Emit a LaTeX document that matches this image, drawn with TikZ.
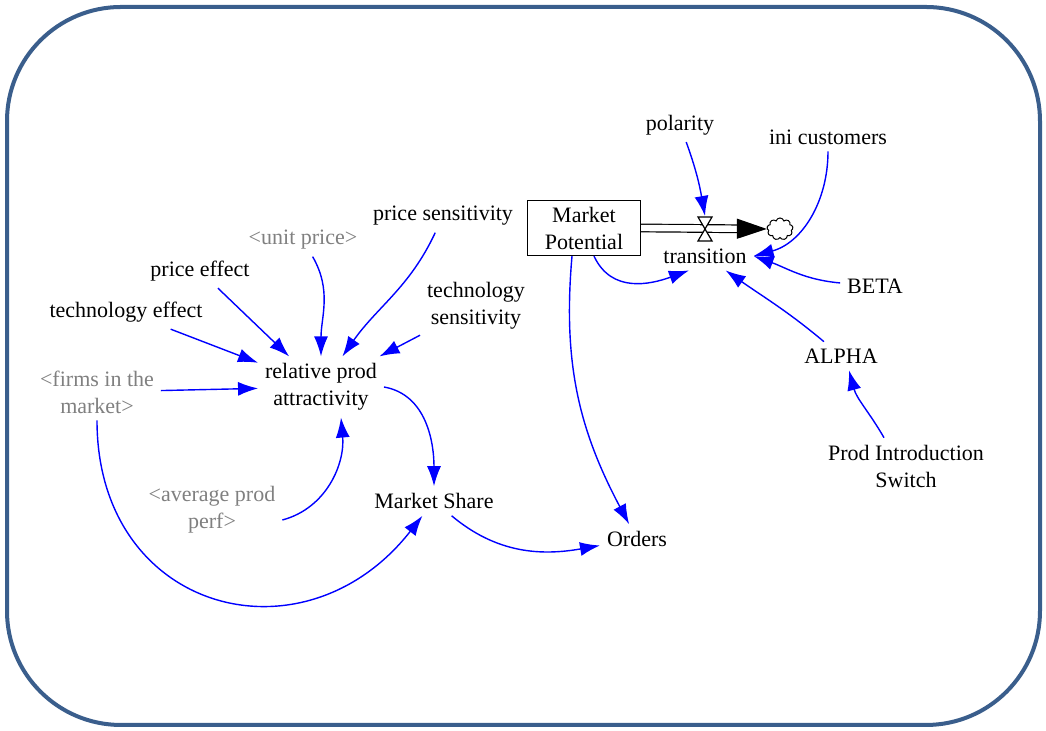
\documentclass[tikz,border=0pt]{standalone}
\usepackage{fontspec}
\setmainfont{Liberation Serif}
\usetikzlibrary{arrows.meta,shapes.symbols}
\definecolor{framecol}{RGB}{58,94,140}
\definecolor{linkcol}{RGB}{0,0,255}
\definecolor{shadowcol}{RGB}{128,128,128}
\tikzset{
  link/.style={draw=linkcol, line width=0.7pt, -{Latex[length=10pt,width=7pt]}},
  shadowvar/.style={text=shadowcol},
  stockbox/.style={draw, line width=0.6pt, minimum width=56.5pt, minimum height=27.5pt, inner sep=1pt},
}
\begin{document}
\begin{tikzpicture}[x=0.5pt,y=0.5pt,font=\fontsize{11}{13.5}\selectfont,
    every node/.style={align=center}]
      \useasboundingbox (0,0) rectangle (1046,731);
      \draw[framecol, line width=2pt, rounded corners=57pt] (7,6) rectangle (1040,724);
      \draw
        (680,606) node (polarity){polarity}
        (828,594) node (ini){ini customers}
        (443,515) node (psens){price sensitivity}
        (584,503) node[stockbox] (mp){Market\\Potential}
        (705,475) node (trans){transition}
        (303,491) node[shadowvar] (uprice){<unit price>}
        (200,460) node (peff){price effect}
        (476,425) node (tsens){technology\\sensitivity}
        (126,419) node (teff){technology effect}
        (875,445) node (beta){BETA}
        (841,375) node (alpha){ALPHA}
        (97,339) node[shadowvar] (firms){<firms in the\\market>}
        (321,344) node (rpa){relative prod\\attractivity}
        (906,265) node (switch){Prod Introduction\\Switch}
        (212,221) node[shadowvar] (avg){<average prod\\perf>}
        (434,230) node (share){Market Share}
        (637,192) node (orders){Orders};
      % flow
      \coordinate (valve) at (705,502);
      \coordinate (valvetop) at (705,515);
      \node[cloud, draw, cloud puffs=9, aspect=1.2, minimum width=13pt, minimum height=11pt,
        inner sep=0pt, line width=0.5pt] (cloud) at (780,502){};
      \draw[double distance=3.2pt, line width=0.6pt, -{Triangle[length=15pt,width=10pt]}]
        (mp.east) -- (cloud.west);
      \draw[fill=white, line width=0.6pt] (valve) ++(-7,12) -- ++(14,0) -- ++(-14,-24) -- ++(14,0) -- cycle;
      \begin{scope}[link]
        \draw (polarity) to[out=-70,in=100] (valvetop);
        \draw (ini) to[out=-90,in=15] (trans.east);
        \draw (beta) to[out=175,in=-20] (trans.east);
        \draw (alpha) to[out=140,in=-35] (trans);
        \draw ([xshift=-11pt]switch.north) to[out=120,in=-75] ([xshift=4pt]alpha.south);
        \draw ([xshift=5pt]mp.south) to[out=-65,in=-160,looseness=1.1] ([xshift=-8pt]trans.south);
        \draw ([xshift=-6pt]mp.south) to[out=-95,in=118] (orders);
        \draw (psens) to[out=-115,in=55] (rpa);
        \draw (uprice) to[out=-60,in=90] (rpa.north);
        \draw (peff) -- (rpa);
        \draw (teff) -- (rpa);
        \draw (tsens) -- (rpa);
        \draw (firms) -- (rpa);
        \draw (firms.south) to[out=-90,in=-128,looseness=1.45] (share);
        \draw ([yshift=-5pt]avg.east) to[out=15,in=-85] ([xshift=10pt]rpa.south);
        \draw (rpa.east) to[out=-10,in=90] (share);
        \draw (share) to[out=-40,in=190] (orders);
      \end{scope}
\end{tikzpicture}
\end{document}
